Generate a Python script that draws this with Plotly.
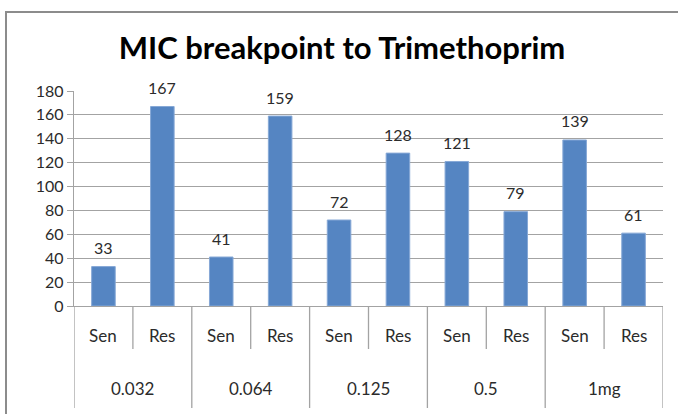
import plotly.graph_objects as go

# data
groups = ["0.032", "0.064", "0.125", "0.5", "1mg"]
subs = ["Sen", "Res"]
counts = [33, 167, 41, 159, 72, 128, 121, 79, 139, 61]
y_ticks = [0, 20, 40, 60, 80, 100, 120, 140, 160, 180]

W, H = 678, 414
L, R, T, B = 74, 663, 91, 306  # plot area in pixels

def px_x(x):
    return (x - L) / (R - L)

def px_y(y):
    return (B - y) / (B - T)

FONT = "Lato"
GRID = "#a3a3a3"
TXT = "#2b2b2b"

n = len(counts)
xs = list(range(n))
sub_labels = [subs[i % 2] for i in range(n)]

fig = go.Figure()
fig.add_trace(go.Bar(
    x=xs, y=counts,
    width=0.4,
    marker=dict(color="#5585C2", line=dict(color="#86A8D6", width=1)),
    hoverinfo="y",
    showlegend=False,
))

annotations = []
# data labels
for x, v in zip(xs, counts):
    annotations.append(dict(x=x, y=v, xref="x", yref="y", text=str(v), showarrow=False,
                            yanchor="middle", yshift=19, font=dict(family=FONT, size=16, color=TXT)))
# sub category labels
for x, s in zip(xs, sub_labels):
    annotations.append(dict(x=x, y=px_y(335), xref="x", yref="paper", text=s, showarrow=False,
                            yanchor="middle", font=dict(family=FONT, size=17, color=TXT)))
# group labels
for i, g in enumerate(groups):
    annotations.append(dict(x=2 * i + 0.5, y=px_y(388), xref="x", yref="paper", text=g, showarrow=False,
                            yanchor="middle", font=dict(family=FONT, size=17, color=TXT)))

shapes = []
# dividers under the axis
for k in range(n + 1):
    b = k - 0.5
    bottom = 408 if k % 2 == 0 else 349
    shapes.append(dict(type="line", xref="x", yref="paper", x0=b, x1=b, y0=0, y1=px_y(bottom),
                       line=dict(color=GRID, width=1.3)))
# chart frame
shapes.append(dict(type="rect", xref="paper", yref="paper",
                   x0=px_x(6), x1=px_x(682), y0=px_y(420), y1=px_y(12),
                   line=dict(color="#8c8c8c", width=2), fillcolor="rgba(0,0,0,0)", layer="below"))

fig.update_layout(
    width=W, height=H,
    margin=dict(l=L, r=W - R, t=T, b=H - B, pad=0),
    paper_bgcolor="white", plot_bgcolor="white",
    title=dict(text="<b>MIC breakpoint to Trimethoprim</b>", x=342 / W, xanchor="center",
               y=1 - 48 / H, yanchor="middle", font=dict(family=FONT, size=31, color="black")),
    xaxis=dict(range=[-0.5, n - 0.5], showticklabels=False, showgrid=False, zeroline=False,
               showline=True, linecolor=GRID, linewidth=1.3, fixedrange=True),
    yaxis=dict(range=[0, 180], tickvals=y_ticks, showgrid=True, gridcolor=GRID, gridwidth=1.3,
               zeroline=False, showline=True, linecolor=GRID, linewidth=1.3,
               ticks="outside", ticklen=6, tickcolor=GRID, tickwidth=1.3,
               tickfont=dict(family=FONT, size=16, color=TXT), fixedrange=True),
    annotations=annotations,
    shapes=shapes,
    bargap=0.6,
)

# drop the browser's default body margin so the figure sits at the page corner
fig.write_html("out.html", config={"displayModeBar": False},
               post_script="document.body.style.margin='0px';")
